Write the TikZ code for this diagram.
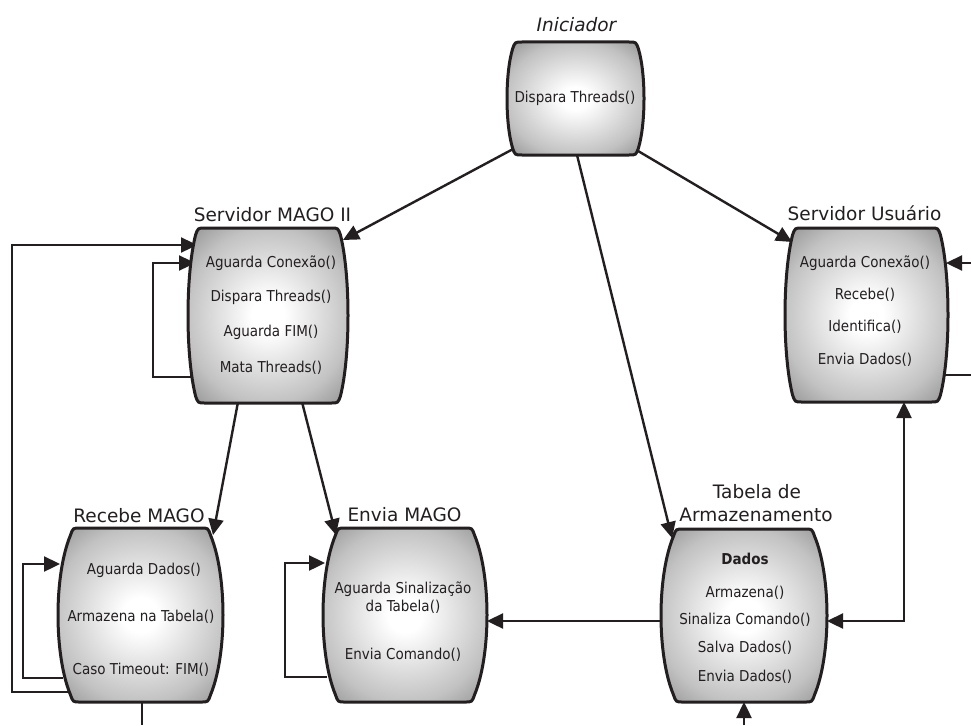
\documentclass[tikz,border=0pt]{standalone}
\usepackage{fontspec}
\setmainfont{DejaVu Sans}
\newfontfamily\condfont{DejaVu Sans Condensed}
\usetikzlibrary{calc,arrows.meta,backgrounds}
\definecolor{ink}{HTML}{231F20}
\pgfdeclarelayer{conn}
\pgfdeclarelayer{boxes}
\pgfsetlayers{background,conn,boxes,main}
\pgfdeclareradialshading{barrelshade}{\pgfpoint{0bp}{0bp}}{color(0bp)=(white); color(5bp)=(white); color(25bp)=(black!24); color(36bp)=(black!45); color(50bp)=(black!45)}
% barrel shaped outline around a named node: #1 name, #2 inset
\newcommand\barrel[2]{%
\path[shading=barrelshade, draw=ink, line width=3pt] let \p1=(#1.north west), \p2=(#1.south east), \n1={\y1-\y2} in
  ({\x1+#2pt+7pt},\y1) -- ({\x2-#2pt-7pt},\y1)
  .. controls ({\x2-#2pt},\y1) .. ({\x2-#2pt+2.45pt},{\y1-7pt})
  .. controls ({\x2+(#2pt-2.45pt)/3},{\y1-7pt-0.25*(\n1-14pt)}) and ({\x2+(#2pt-2.45pt)/3},{\y2+7pt+0.25*(\n1-14pt)}) .. ({\x2-#2pt+2.45pt},{\y2+7pt})
  .. controls ({\x2-#2pt},\y2) .. ({\x2-#2pt-7pt},\y2)
  -- ({\x1+#2pt+7pt},\y2)
  .. controls ({\x1+#2pt},\y2) .. ({\x1+#2pt-2.45pt},{\y2+7pt})
  .. controls ({\x1-(#2pt-2.45pt)/3},{\y2+7pt+0.25*(\n1-14pt)}) and ({\x1-(#2pt-2.45pt)/3},{\y1-7pt-0.25*(\n1-14pt)}) .. ({\x1+#2pt-2.45pt},{\y1-7pt})
  .. controls ({\x1+#2pt},\y1) .. ({\x1+#2pt+7pt},\y1) -- cycle;
}
\tikzset{
  boxnode/.style={inner sep=0pt, outer sep=0pt},
  boxtext/.style={font=\condfont\fontsize{15}{18}\selectfont, inner sep=0pt, text=ink},
  titletext/.style={font=\fontsize{18.5}{22}\selectfont, inner sep=0pt, anchor=base, text=ink},
  plain/.style={draw=ink, line width=2.4pt},
  arr/.style={plain, -{Triangle[length=16pt,width=15pt]}},
  dbl/.style={plain, {Triangle[length=16pt,width=15pt]}-{Triangle[length=16pt,width=15pt]}}
}
\begin{document}
\begin{tikzpicture}[x=1pt,y=-1pt]
\useasboundingbox (0,0) rectangle (971,725);
% boxes
\node[boxnode, minimum width=137pt, minimum height=113pt] (ini) at (575.5,98.5) {};
\node[boxnode, minimum width=160pt, minimum height=175pt] (smago) at (268,315.5) {};
\node[boxnode, minimum width=163pt, minimum height=174pt] (susr) at (866.5,315) {};
\node[boxnode, minimum width=165pt, minimum height=174pt] (rmago) at (140.5,615) {};
\node[boxnode, minimum width=164pt, minimum height=174pt] (emago) at (405,615) {};
\node[boxnode, minimum width=166pt, minimum height=173pt] (tab) at (744,615.5) {};
% titles
\node[titletext, font=\fontsize{18.5}{22}\selectfont\itshape] (ini-t) at (576.5,32) {Iniciador};
\node[titletext] (smago-t) at (272.5,221) {Servidor MAGO II};
\node[titletext] (susr-t) at (864.5,220) {Servidor Usuário};
\node[titletext] (rmago-t) at (139,522) {Recebe MAGO};
\node[titletext] (emago-t) at (404.5,521) {Envia MAGO};
\node[titletext] (tab-t1) at (757,498) {Tabela de};
\node[titletext] (tab-t2) at (756,521) {Armazenamento};
% texts
\node[boxtext] (ini-1) at (575,98) {Dispara Threads()};
\node[boxtext] (smago-1) at (271,263) {Aguarda Conexão()};
\node[boxtext] (smago-2) at (271,297) {Dispara Threads()};
\node[boxtext] (smago-3) at (271,332) {Aguarda FIM()};
\node[boxtext] (smago-4) at (271,368) {Mata Threads()};
\node[boxtext] (susr-1) at (865,263) {Aguarda Conexão()};
\node[boxtext] (susr-2) at (865,295) {Recebe()};
\node[boxtext] (susr-3) at (865,327) {Identifica()};
\node[boxtext] (susr-4) at (865,360) {Envia Dados()};
\node[boxtext] (rmago-1) at (144,570) {Aguarda Dados()};
\node[boxtext] (rmago-2) at (141,617) {Armazena na Tabela()};
\node[boxtext] (rmago-3) at (141,670) {Caso Timeout: FIM()};
\node[boxtext] (emago-1) at (403,589) {Aguarda Sinalização};
\node[boxtext] (emago-2) at (403,607) {da Tabela()};
\node[boxtext] (emago-3) at (403,655) {Envia Comando()};
\node[boxtext, font=\condfont\bfseries\fontsize{15}{18}\selectfont] (tab-0) at (745,559) {Dados};
\node[boxtext] (tab-1) at (745,593) {Armazena()};
\node[boxtext] (tab-2) at (745,620) {Sinaliza Comando()};
\node[boxtext] (tab-3) at (745,648) {Salva Dados()};
\node[boxtext] (tab-4) at (745,677) {Envia Dados()};
% free ends
\coordinate (rstub) at (142,725);
\coordinate (tabin) at (744,725);
\coordinate (susrin) at (971,263);
\coordinate (susrout) at (971,375);
% barrels
\begin{pgfonlayer}{background}
\fill[white] (0,0) rectangle (971,725);
\end{pgfonlayer}
\begin{pgfonlayer}{boxes}
\barrel{ini}{8}
\barrel{smago}{10}
\barrel{susr}{10}
\barrel{rmago}{15}
\barrel{emago}{15}
\barrel{tab}{15}
\end{pgfonlayer}
% connectors
\begin{pgfonlayer}{conn}
\draw[arr] ($(ini.south west)+(8,-7)$) -- ($(smago.north east)+(-5,12)$);
\draw[arr] ($(ini.south east)+(-11,-7)$) -- ($(susr.north west)+(7,14)$);
\draw[arr] ($(ini.south)+(1.5,0)$) -- ($(tab.north west)+(11,9)$);
\draw[arr] ($(smago.south west)+(50,-1)$) -- ($(rmago.north east)+(-10,7)$);
\draw[arr] ($(smago.south west)+(114,-1)$) -- ($(emago.north west)+(13,7)$);
\draw[arr] ($(smago.west)+(5,61.5)$) -| ($(smago.west)+(-35,-52.5)$) -- ($(smago.west)+(7,-52.5)$);
\draw[arr] ($(rmago.west)+(10,77)$) -| ($(smago.west)+(-176,-70.5)$) -- ($(smago.west)+(9,-70.5)$);
\draw[arr] ($(rmago.west)+(5,63)$) -| ($(rmago.west)+(-35,-51)$) -- ($(rmago.west)+(2,-51)$);
\draw[plain] ($(rmago.south)+(1.5,0)$) -- (rstub);
\draw[arr] ($(emago.west)+(4,62)$) -| ($(emago.west)+(-38,-52)$) -- ($(emago.west)+(2,-52)$);
\draw[arr] ($(tab.west)+(0,5.5)$) -- ($(emago.east)+(0,6)$);
\draw[dbl] ($(tab.east)+(0,5.5)$) -| ($(susr.south)+(37.5,0)$);
\draw[arr] (tabin) -- (tab.south);
\draw[arr] (susrin) -- ($(susr.east)+(-2,-52)$);
\draw[plain] ($(susr.east)+(-6,60)$) -- (susrout);
\end{pgfonlayer}
\end{tikzpicture}
\end{document}
